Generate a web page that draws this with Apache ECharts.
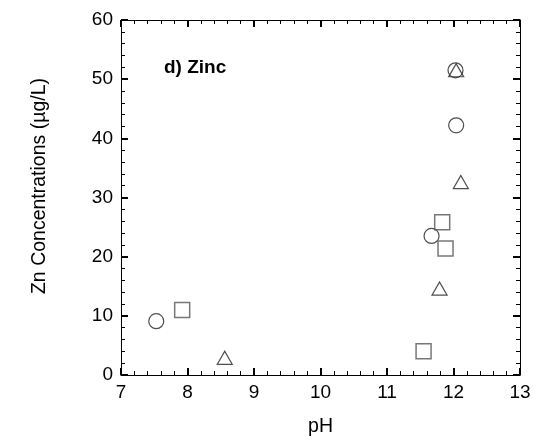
<!DOCTYPE html>
<html><head><meta charset="utf-8">
<script src="https://cdn.jsdelivr.net/npm/echarts@6/dist/echarts.min.js"></script>
<style>html,body{margin:0;padding:0;background:#fff}#c{width:537px;height:442px}</style>
</head><body><div id="c"></div>
<script>
const circleData = [[7.53, 9.1], [12.03, 51.5], [12.04, 42.2], [11.67, 23.5]];
const squareData = [[7.92, 11.0], [11.55, 4.0], [11.83, 25.8], [11.88, 21.4]];
const triangleData = [[8.56, 2.9], [11.79, 14.6], [12.04, 51.5], [12.11, 32.6]];
const xTitle = 'pH';
const yTitle = 'Zn Concentrations (\u00b5g/L)';
const panelLabel = 'd) Zinc';

const font = 'Liberation Sans, Arial, sans-serif';
const tick = {show: true, inside: true, length: 7, lineStyle: {color: '#000', width: 2}};
const minor = {show: true, splitNumber: 5, length: 4, lineStyle: {color: '#000', width: 1}};
const line = {show: true, onZero: false, lineStyle: {color: '#000', width: 1}};
const chart = echarts.init(document.getElementById('c'));
chart.setOption({
  animation: false,
  grid: {left: 121, right: 17, top: 20, bottom: 67},
  xAxis: [
    {type: 'value', min: 7, max: 13, interval: 1, axisLine: line, axisTick: tick, minorTick: minor,
     splitLine: {show: false}, axisLabel: {color: '#000', fontSize: 19, fontFamily: font, margin: 8},
     name: xTitle, nameLocation: 'middle', nameGap: 42, nameTextStyle: {color: '#000', fontSize: 19.5, fontFamily: font}},
    {type: 'value', position: 'top', min: 7, max: 13, interval: 1, axisLine: line, axisTick: tick, minorTick: minor,
     splitLine: {show: false}, axisLabel: {show: false}}
  ],
  yAxis: [
    {type: 'value', min: 0, max: 60, interval: 10, axisLine: line, axisTick: tick, minorTick: minor,
     splitLine: {show: false}, axisLabel: {color: '#000', fontSize: 19, fontFamily: font, margin: 8}},
    {type: 'value', position: 'right', min: 0, max: 60, interval: 10, axisLine: line, axisTick: tick, minorTick: minor,
     splitLine: {show: false}, axisLabel: {show: false}}
  ],
  graphic: [
    {type: 'text', left: 164, top: 58, style: {text: panelLabel, font: 'bold 19px ' + font, fill: '#000'}},
    {type: 'text', x: 40, y: 186, rotation: Math.PI / 2,
     style: {text: yTitle, font: '19.5px ' + font, fill: '#000', align: 'center', verticalAlign: 'middle'}}
  ],
  series: [
    {type: 'scatter', name: 'circle', data: circleData, symbol: 'circle', symbolSize: 15,
     itemStyle: {color: 'rgba(0,0,0,0)', borderColor: '#222', borderWidth: 1.2}},
    {type: 'scatter', name: 'square', data: squareData, symbol: 'rect', symbolSize: 15,
     itemStyle: {color: 'rgba(0,0,0,0)', borderColor: '#555', borderWidth: 1.5}},
    {type: 'scatter', name: 'triangle', data: triangleData, symbol: 'triangle', symbolSize: [15, 13],
     itemStyle: {color: 'rgba(0,0,0,0)', borderColor: '#222', borderWidth: 1.2}}
  ]
});
</script></body></html>
